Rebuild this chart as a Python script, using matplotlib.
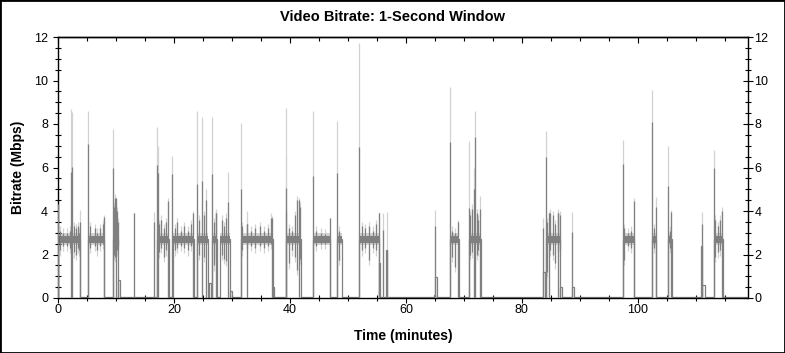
import matplotlib
matplotlib.use("Agg")
import matplotlib.pyplot as plt
from matplotlib.patches import Rectangle
from matplotlib.ticker import MultipleLocator

plt.rcParams['font.family'] = ['Liberation Sans', 'DejaVu Sans']

# ---------------- data ----------------
# active video segments (minutes): start / end
seg_start = [0.0, 5.23, 9.54, 17.1, 19.8, 24.0, 26.6, 28.0, 31.55, 39.4, 44.0, 48.2,
             51.95, 67.6, 70.9, 84.1, 97.5, 102.5, 105.2, 113.05]
seg_end = [3.8, 8.0, 10.4, 19.1, 23.4, 25.9, 27.5, 29.7, 37.0, 41.9, 46.95, 49.0,
           55.4, 69.2, 73.0, 86.6, 99.4, 103.2, 105.9, 114.7]
# typical band of the 1-second average (dark) and of the peak trace (light), Mbps
band_lo, band_hi = 2.55, 2.85
halo_lo, halo_hi = 2.42, 3.0
band_mid = 2.7
zero_level = 0.04

# short plateaus outside the segments: start, end, level
step_start = [10.4, 26.1, 29.7, 37.0, 55.4, 56.6, 64.8, 65.05, 83.6, 86.6, 88.7, 110.9, 111.1]
step_end = [10.65, 26.4, 30.0, 37.25, 55.6, 56.8, 65.0, 65.3, 84.0, 86.85, 89.0, 111.05, 111.5]
step_level = [0.85, 0.7, 0.3, 0.5, 1.6, 2.2, 0.12, 0.95, 1.2, 0.5, 0.5, 2.4, 0.6]

# spikes: time, 1-second average (dark), peak (light)
spike_t = [0.05, 2.30, 2.47, 3.8, 5.23, 7.9, 9.54, 10.0, 13.16, 16.6, 17.1, 17.2, 19.0,
           19.7, 23.3, 24.0, 24.9, 25.6, 26.6, 27.3, 29.4, 31.55, 32.6, 36.9, 39.3, 39.4,
           41.5, 44.0, 46.9, 48.2, 51.95, 55.3, 56.0, 56.7, 65.05, 67.6, 69.0, 70.8,
           71.7, 72.0, 72.8, 83.7, 84.1, 84.7, 86.3, 88.7, 97.5, 99.4, 102.5, 103.1,
           105.2, 105.8, 111.1, 113.05, 114.6]
spike_dark = [4.3, 5.8, 6.04, 3.5, 7.08, 3.74, 5.96, 4.6, 3.9, 3.5, 6.1, 5.75, 4.44,
              5.7, 3.9, 5.24, 5.38, 4.5, 5.7, 3.9, 4.4, 5.0, 3.4, 3.7, 4.0, 5.04,
              4.5, 5.6, 3.66, 5.76, 6.96, 3.92, 3.13, 2.2, 3.33, 7.19, 3.5, 4.12,
              5.0, 7.42, 4.1, 3.2, 6.5, 3.9, 3.9, 3.05, 6.16, 4.44, 8.11, 4.2,
              5.15, 3.97, 3.4, 5.99, 4.0]
spike_light = [4.4, 8.67, 8.57, 4.05, 8.6, 3.8, 7.77, 4.6, 3.9, 3.97, 7.88, 7.0, 4.6,
               6.54, 4.0, 8.6, 8.3, 4.99, 8.3, 4.05, 5.78, 8.03, 4.0, 3.75, 6.5, 8.75,
               4.6, 8.6, 3.7, 8.14, 11.74, 3.95, 3.9, 3.95, 4.05, 9.69, 3.6, 7.22,
               5.96, 8.61, 4.69, 3.7, 7.68, 3.95, 4.0, 3.94, 7.26, 4.6, 9.56, 4.66,
               7.0, 4.05, 3.97, 6.8, 4.2]

# in-band excursions of the dark trace: time, low, high
exc_t = [0.3, 0.8, 1.5, 2.0, 2.8, 3.1, 3.4, 3.6,
         5.6, 6.3, 6.8, 7.3, 7.7,
         9.7, 9.9, 10.1, 10.3,
         17.4, 17.8, 18.3, 18.7, 20.1, 20.6, 21.2, 21.7, 22.4, 22.9,
         24.4, 25.2, 26.9, 27.2, 28.2, 28.6, 29.0,
         31.8, 32.6, 33.3, 34.0, 34.8, 35.5, 36.2, 36.8,
         39.8, 40.4, 40.9, 41.3, 41.7,
         44.5, 45.3, 46.1, 48.5,
         52.4, 53.0, 53.6, 54.3, 54.9,
         68.0, 68.5, 71.0, 71.4, 72.2, 72.5,
         84.3, 84.8, 85.3, 85.7, 86.2, 86.5,
         97.7, 98.3, 98.9, 102.8, 105.5,
         113.3, 113.8, 114.2]
exc_lo = [2.2, 2.4, 2.4, 2.3, 2.1, 2.0, 2.3, 2.2,
          2.3, 2.4, 2.2, 2.4, 2.5,
          2.0, 1.9, 2.2, 2.4,
          2.1, 2.3, 1.9, 2.2, 2.2, 2.3, 2.4, 2.3, 2.2, 2.4,
          2.0, 1.9, 1.5, 1.8, 2.0, 1.8, 1.7,
          2.2, 2.3, 2.4, 2.3, 2.4, 2.3, 2.4, 2.5,
          1.6, 2.2, 1.9, 1.3, 1.8,
          2.4, 2.5, 2.5, 1.75,
          2.2, 2.3, 1.75, 2.3, 2.2,
          1.9, 1.44, 2.0, 2.1, 2.0, 2.2,
          1.2, 2.2, 2.0, 1.6, 2.1, 2.2,
          1.75, 2.4, 2.3, 2.3, 2.3,
          1.9, 2.1, 2.2]
exc_hi = [3.1, 3.0, 3.0, 3.1, 3.3, 3.2, 3.3, 3.0,
          3.3, 3.2, 3.0, 3.2, 3.4,
          4.2, 4.6, 4.0, 3.5,
          3.4, 3.6, 3.2, 3.5, 3.2, 3.5, 3.1, 3.3, 3.1, 3.4,
          3.6, 3.8, 3.5, 3.9, 3.6, 3.3, 3.7,
          3.3, 3.4, 3.1, 3.2, 3.3, 3.1, 3.2, 3.7,
          3.2, 3.1, 3.8, 4.5, 4.2,
          3.1, 3.0, 2.95, 3.1,
          3.3, 3.2, 3.3, 3.1, 3.4,
          3.1, 3.0, 3.8, 4.1, 3.9, 3.6,
          3.5, 3.9, 3.8, 3.4, 3.9, 3.8,
          3.2, 3.0, 3.1, 3.2, 3.1,
          3.6, 3.3, 3.6]

x_max = 119.0
y_max = 12
x_ticks = [0, 20, 40, 60, 80, 100]
y_ticks = [0, 2, 4, 6, 8, 10, 12]

DARK = '#808080'
LIGHT = '#d2d2d2'

# ---------------- figure ----------------
W, H = 785, 353
fig = plt.figure(figsize=(W / 100, H / 100), dpi=100)
ax = fig.add_axes([58 / W, 1 - 298 / H, 690 / W, 261 / H])

# light (peak) layer
for s, e in zip(seg_start, seg_end):
    ax.fill_between([s, e], halo_lo, halo_hi, color=LIGHT, lw=0, zorder=1)
ax.vlines(spike_t, 0, spike_light, color=LIGHT, lw=0.9, zorder=1)
ax.vlines(exc_t, [v - 0.25 for v in exc_lo], [v + 0.2 for v in exc_hi],
          color=LIGHT, lw=0.9, zorder=1)

# dark baseline path built from segments and plateaus
plateaus = sorted([(s, e, band_mid) for s, e in zip(seg_start, seg_end)] +
                  [(s, e, l) for s, e, l in zip(step_start, step_end, step_level)])
px, py = [0.0], [zero_level]
last = 0.0
for s, e, l in plateaus:
    if s > last:
        px += [s]
        py += [zero_level]
    px += [s, e, e]
    py += [l, l, zero_level]
    last = e
px += [x_max]
py += [zero_level]
ax.plot(px, py, color=DARK, lw=0.9, zorder=2, solid_joinstyle='miter')

for s, e in zip(seg_start, seg_end):
    ax.fill_between([s, e], band_lo, band_hi, color=DARK, lw=0, zorder=2)
ax.vlines(exc_t, exc_lo, exc_hi, color=DARK, lw=0.9, zorder=2)
ax.vlines(spike_t, 0, spike_dark, color=DARK, lw=0.9, zorder=3)

# axes styling
ax.set_xlim(0, x_max)
ax.set_ylim(0, y_max)
ax.set_xticks(x_ticks)
ax.set_yticks(y_ticks)
ax.xaxis.set_minor_locator(MultipleLocator(5))
ax.yaxis.set_minor_locator(MultipleLocator(0.5))
for sp in ax.spines.values():
    sp.set_linewidth(1.0)
    sp.set_color('black')
ax.tick_params(axis='x', which='major', direction='out', length=3.5, width=0.8,
               labelsize=9, pad=1, top=False)
ax.tick_params(axis='x', which='minor', direction='inout', length=5, width=0.8, top=False)
ax.tick_params(axis='y', which='major', direction='out', length=3.6, width=0.8,
               labelsize=9, pad=3.6, right=False)
ax.tick_params(axis='y', which='minor', direction='inout', length=5, width=0.8, right=False)

axr = ax.twinx()
axr.set_ylim(0, y_max)
axr.set_yticks(y_ticks)
axr.yaxis.set_minor_locator(MultipleLocator(0.5))
axr.tick_params(axis='y', which='major', direction='inout', length=7, width=0.8,
                labelsize=9, pad=1)
axr.tick_params(axis='y', which='minor', direction='inout', length=5, width=0.8)
for sp in axr.spines.values():
    sp.set_visible(False)

axt = ax.secondary_xaxis('top')
axt.set_xticks(x_ticks)
axt.xaxis.set_minor_locator(MultipleLocator(5))
axt.tick_params(which='major', direction='in', length=4, width=0.8, labeltop=False)
axt.tick_params(which='minor', direction='in', length=3, width=0.8)
axt.spines['top'].set_linewidth(1.0)

fig.text(393 / W, 1 - 17 / H, 'Video Bitrate: 1-Second Window', ha='center', va='center',
         fontsize=10.5, fontweight='bold')
fig.text(403 / W, 1 - 336 / H, 'Time (minutes)', ha='center', va='center',
         fontsize=10, fontweight='bold')
fig.text(18 / W, 1 - 167 / H, 'Bitrate (Mbps)', ha='center', va='center', rotation=90,
         fontsize=10, fontweight='bold')

fig.add_artist(Rectangle((0, 0), 1, 1, transform=fig.transFigure, fill=False,
                         edgecolor='black', lw=2))

fig.savefig('out.png', dpi=100)
